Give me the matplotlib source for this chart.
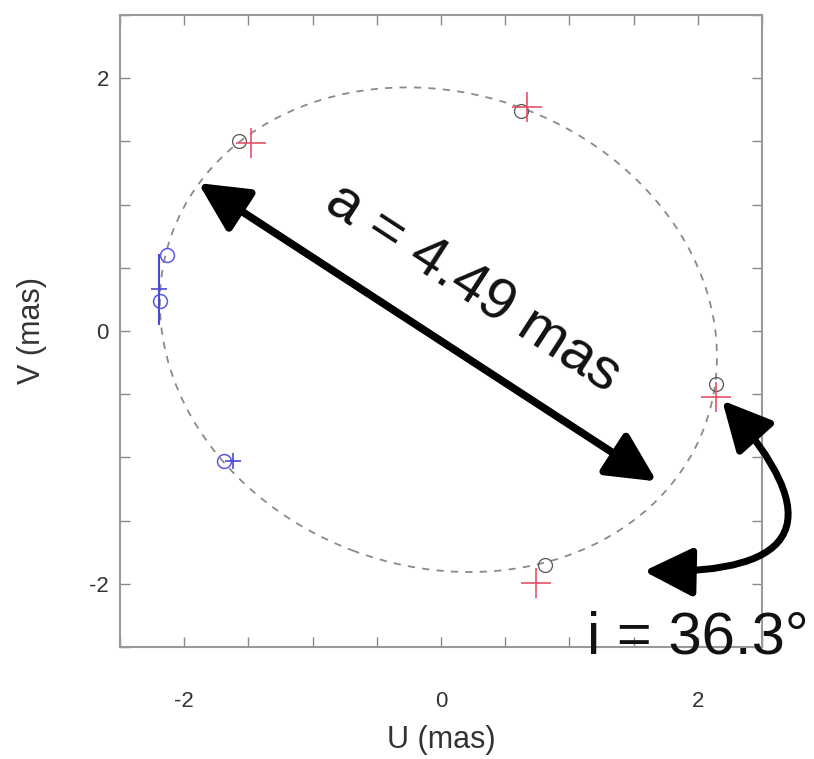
import matplotlib.pyplot as plt
from matplotlib.patches import Ellipse
from matplotlib.ticker import MultipleLocator, FixedLocator

plt.rcParams['font.family'] = ['Liberation Sans', 'DejaVu Sans']
plt.rcParams['axes.unicode_minus'] = False

# orbit model (mas, deg)
orbit_center = (-0.02, 0.01)
orbit_major = 4.42
orbit_minor = 3.74
orbit_angle = -21.0

# red epochs: measured (+) and model (o)
red_u = [-1.48, 0.67, 2.14, 0.74]
red_v = [1.49, 1.77, -0.52, -1.99]
red_model_u = [-1.57, 0.62, 2.14, 0.81]
red_model_v = [1.50, 1.74, -0.42, -1.85]

# blue epochs
blue_u = [-2.20, -1.62]
blue_v = [0.33, -1.03]
blue_verr = [0.28, 0.0]
blue_model_u = [-2.13, -2.19, -1.69]
blue_model_v = [0.60, 0.24, -1.03]

# annotations
a_label = "a = 4.49 mas"
a_ends = [(-1.89, 1.17), (1.68, -1.19)]
i_label = "i = 36.3°"
i_ends = [(2.19, -0.55), (1.58, -1.90)]

fig = plt.figure(figsize=(8.14, 7.59), dpi=100)
ax = fig.add_axes([0.1474, 0.1476, 0.7887, 0.8327])

ax.add_patch(Ellipse(orbit_center, orbit_major, orbit_minor, angle=orbit_angle,
                     fill=False, edgecolor='#8a8a8a', lw=1.3, ls=(0, (4, 4))))

ax.plot(red_model_u, red_model_v, 'o', mfc='none', mec='#555555', ms=10, mew=0.9)
ax.plot(red_u, red_v, '+', color='#e8506a', ms=22, mew=1.2)

ax.plot(blue_model_u, blue_model_v, 'o', mfc='none', mec='#5a5ae0', ms=10, mew=1.1)
ax.errorbar(blue_u, blue_v, yerr=blue_verr, fmt='+', color='#4a4ad8', ms=12,
            mew=1.2, elinewidth=1.5, capsize=0)

ax.annotate('', xy=a_ends[1], xytext=a_ends[0],
            arrowprops=dict(arrowstyle='<|-|>,head_length=1.0,head_width=0.5',
                            color='black', lw=5.5, mutation_scale=30,
                            shrinkA=0, shrinkB=0))
ax.text(0.25, 0.34, a_label, rotation=-33, rotation_mode='anchor',
        ha='center', va='center', fontsize=42, color='#111111')

ax.annotate('', xy=i_ends[1], xytext=i_ends[0], annotation_clip=False,
            arrowprops=dict(arrowstyle='<|-|>,head_length=1.0,head_width=0.5',
                            color='black', lw=5, mutation_scale=30,
                            connectionstyle='arc3,rad=-1.15',
                            shrinkA=0, shrinkB=0))
ax.text(2.0, -2.43, i_label, ha='center', va='center', fontsize=43,
        color='#111111', clip_on=False)

ax.set_xlim(-2.5, 2.5)
ax.set_ylim(-2.5, 2.5)
ax.xaxis.set_major_locator(FixedLocator([-2, 0, 2]))
ax.yaxis.set_major_locator(FixedLocator([-2, 0, 2]))
ax.xaxis.set_minor_locator(MultipleLocator(0.5))
ax.yaxis.set_minor_locator(MultipleLocator(0.5))
ax.tick_params(which='both', direction='in', top=True, right=True,
               color='#888888', length=7, width=1)
ax.tick_params(axis='x', which='major', pad=32, labelsize=16, labelcolor='#333333')
ax.tick_params(axis='y', which='major', pad=8, labelsize=16, labelcolor='#333333')
for s in ax.spines.values():
    s.set_color('#999999')
    s.set_linewidth(1.5)

ax.set_xlabel("U (mas)", fontsize=22, color='#333333', labelpad=9)
ax.set_ylabel("V (mas)", fontsize=22, color='#333333', labelpad=30)

fig.savefig("out.png", dpi=100)
